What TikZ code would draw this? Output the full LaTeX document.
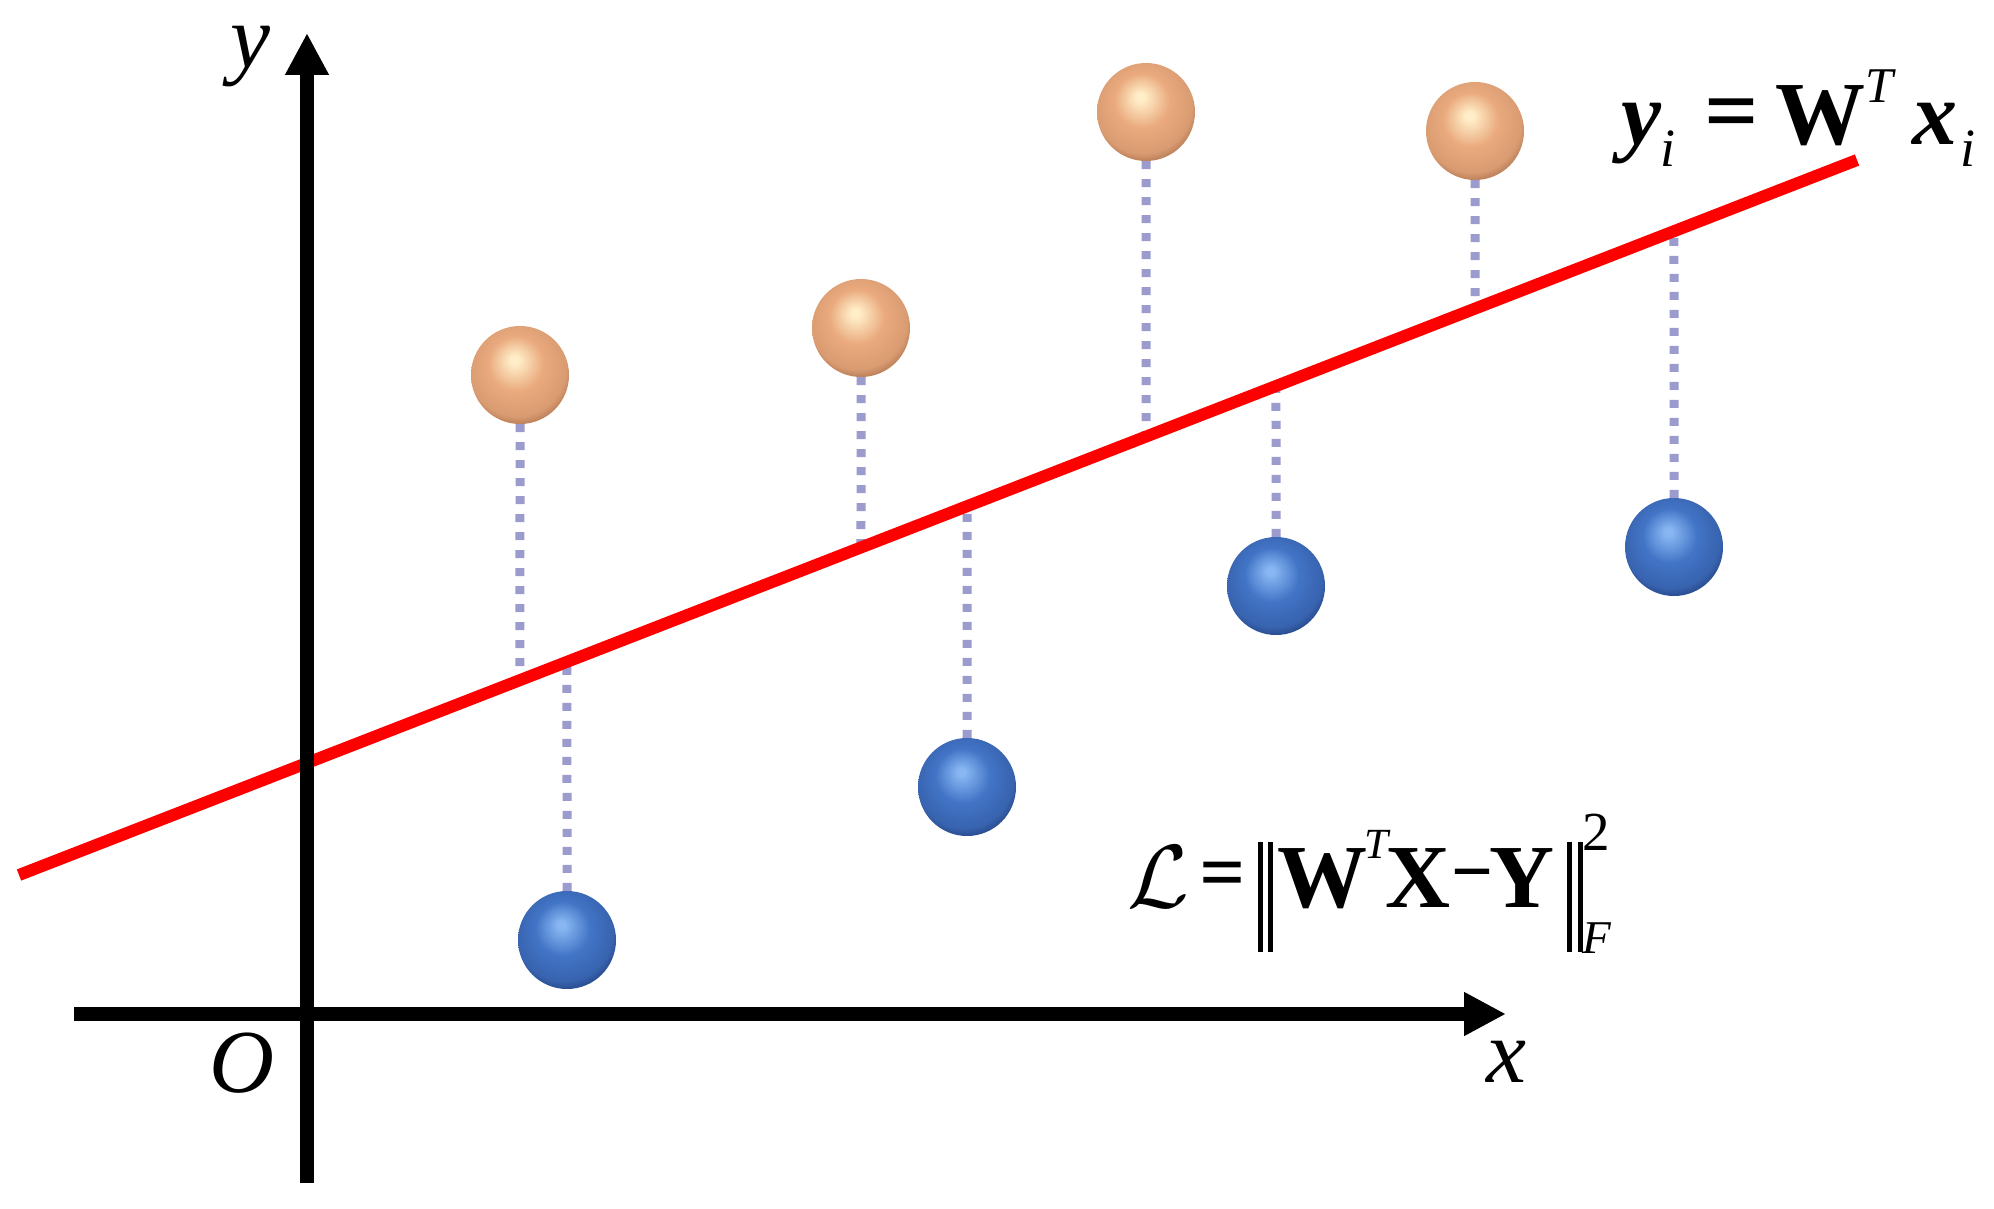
\documentclass[tikz,border=0pt]{standalone}
\usepackage{fontspec}
\setmainfont{Liberation Serif}
\newfontfamily\thicksym[FakeBold=2.5]{Liberation Serif}
\usetikzlibrary{arrows.meta,calc}
\definecolor{redline}{RGB}{255,0,0}
\definecolor{dotc}{RGB}{155,155,205}
\definecolor{ohl}{RGB}{255,238,200}
\definecolor{obody}{RGB}{234,170,126}
\definecolor{oedge}{RGB}{150,95,62}
\definecolor{bhl}{RGB}{135,182,242}
\definecolor{bbody}{RGB}{66,116,198}
\definecolor{bedge}{RGB}{24,48,105}
\pgfdeclareradialshading{orangeball}{\pgfpoint{-3bp}{8bp}}{color(0bp)=(ohl); color(2bp)=(ohl); color(14bp)=(obody); color(25bp)=(obody!80!oedge); color(33bp)=(oedge); color(50bp)=(oedge)}
\pgfdeclareradialshading{blueball}{\pgfpoint{-3bp}{8bp}}{color(0bp)=(bhl); color(2bp)=(bhl); color(14bp)=(bbody); color(25bp)=(bbody!75!bedge); color(33bp)=(bedge); color(50bp)=(bedge)}
\newcommand\myfs[1]{\fontsize{#1}{#1}\selectfont}
\tikzset{
  axis/.style={line width=14pt, -{Triangle[length=42pt,width=41pt]}},
  fitline/.style={line width=12pt, redline},
  resid/.style={line width=9pt, dotc, dash pattern=on 8pt off 10pt},
  oball/.style={circle, minimum size=98pt, inner sep=0pt, shade, shading=orangeball},
  bball/.style={circle, minimum size=98pt, inner sep=0pt, shade, shading=blueball},
  lab/.style={inner sep=0pt, anchor=base},
  sym/.style={inner sep=0pt, anchor=center},
}
\begin{document}
\begin{tikzpicture}[x=1pt,y=-1pt]
\path[use as bounding box, fill=white] (0,0) rectangle (1994,1209);
% fitted line end points
\coordinate (R1) at (19,875);
\coordinate (R2) at (1857,160);
% feet of residuals on the line
\coordinate (f1) at ($(R1)!{(520-19)/1838}!(R2)$);
\coordinate (g1) at ($(R1)!{(567-19)/1838}!(R2)$);
\coordinate (f2) at ($(R1)!{(861-19)/1838}!(R2)$);
\coordinate (g2) at ($(R1)!{(967-19)/1838}!(R2)$);
\coordinate (f3) at ($(R1)!{(1146-19)/1838}!(R2)$);
\coordinate (g3) at ($(R1)!{(1276-19)/1838}!(R2)$);
\coordinate (f4) at ($(R1)!{(1475-19)/1838}!(R2)$);
\coordinate (g4) at ($(R1)!{(1674-19)/1838}!(R2)$);
% spheres
\node[oball] (o1) at (520,375) {};
\node[oball] (o2) at (861,328) {};
\node[oball] (o3) at (1146,112) {};
\node[oball] (o4) at (1475,131) {};
\node[bball] (b1) at (567,940) {};
\node[bball] (b2) at (967,787) {};
\node[bball] (b3) at (1276,586) {};
\node[bball] (b4) at (1674,547) {};
% residuals
\draw[resid] (o1.south) -- (f1);
\draw[resid] (o2.south) -- (f2);
\draw[resid] (o3.south) -- (f3);
\draw[resid] (o4.south) -- (f4);
\draw[resid] (b1.north) -- (g1);
\draw[resid] (b2.north) -- (g2);
\draw[resid] (b3.north) -- (g3);
\draw[resid] (b4.north) -- (g4);
% fitted line
\draw[fitline] (R1) -- (R2);
% axes
\coordinate (xs) at (74,1014);
\coordinate (xe) at (1506,1014);
\coordinate (ys) at (307,1183);
\coordinate (ye) at (307,33);
\draw[axis] (xs) -- (xe);
\draw[axis] (ys) -- (ye);
% axis labels
\node[lab] (ylab) at (250,68) {\myfs{90}\itshape y};
\node[lab] (olab) at (242,1092) {\myfs{90}\itshape O};
\node[lab] (xlab) at (1506,1082) {\myfs{90}\itshape x};
% formula y_i = W^T x_i
\node[lab] (f1y) at (1641,145) {\myfs{90}\bfseries\itshape y};
\node[lab] (f1i) at (1668,167) {\myfs{54}\itshape i};
\node[sym] (f1eq) at (1731,120) {\myfs{90}\thicksym =};
\node[lab] (f1W) at (1820,145) {\myfs{90}\bfseries W};
\node[lab] (f1T) at (1879,103) {\myfs{50}\itshape T};
\node[lab] (f1x) at (1935,145) {\myfs{90}\bfseries\itshape x};
\node[lab] (f1j) at (1968,167) {\myfs{54}\itshape i};
% formula L = ||W^T X - Y||_F^2
\node[lab] (f2L) at (1158,907) {\myfs{25}\scalebox{3.6}{$\mathcal{L}$}};
\node[sym] (f2eq) at (1222,880) {\myfs{76}\thicksym =};
\draw[line width=5pt] (1260.5,842) -- (1260.5,952) (1270.5,842) -- (1270.5,952);
\draw[line width=5pt] (1569.5,842) -- (1569.5,952) (1580.5,842) -- (1580.5,952);
\node[lab] (f2W) at (1322,907) {\myfs{90}\bfseries W};
\node[lab] (f2T) at (1376,858) {\myfs{43}\itshape T};
\node[lab] (f2X) at (1418,907) {\myfs{90}\bfseries X};
\node[sym] (f2mi) at (1472,882) {\myfs{70}\thicksym −};
\node[lab] (f2Y) at (1522,907) {\myfs{90}\bfseries Y};
\node[lab] (f2two) at (1596,850) {\myfs{55}2};
\node[lab] (f2F) at (1597,953) {\myfs{47}\itshape F};
\end{tikzpicture}
\end{document}
